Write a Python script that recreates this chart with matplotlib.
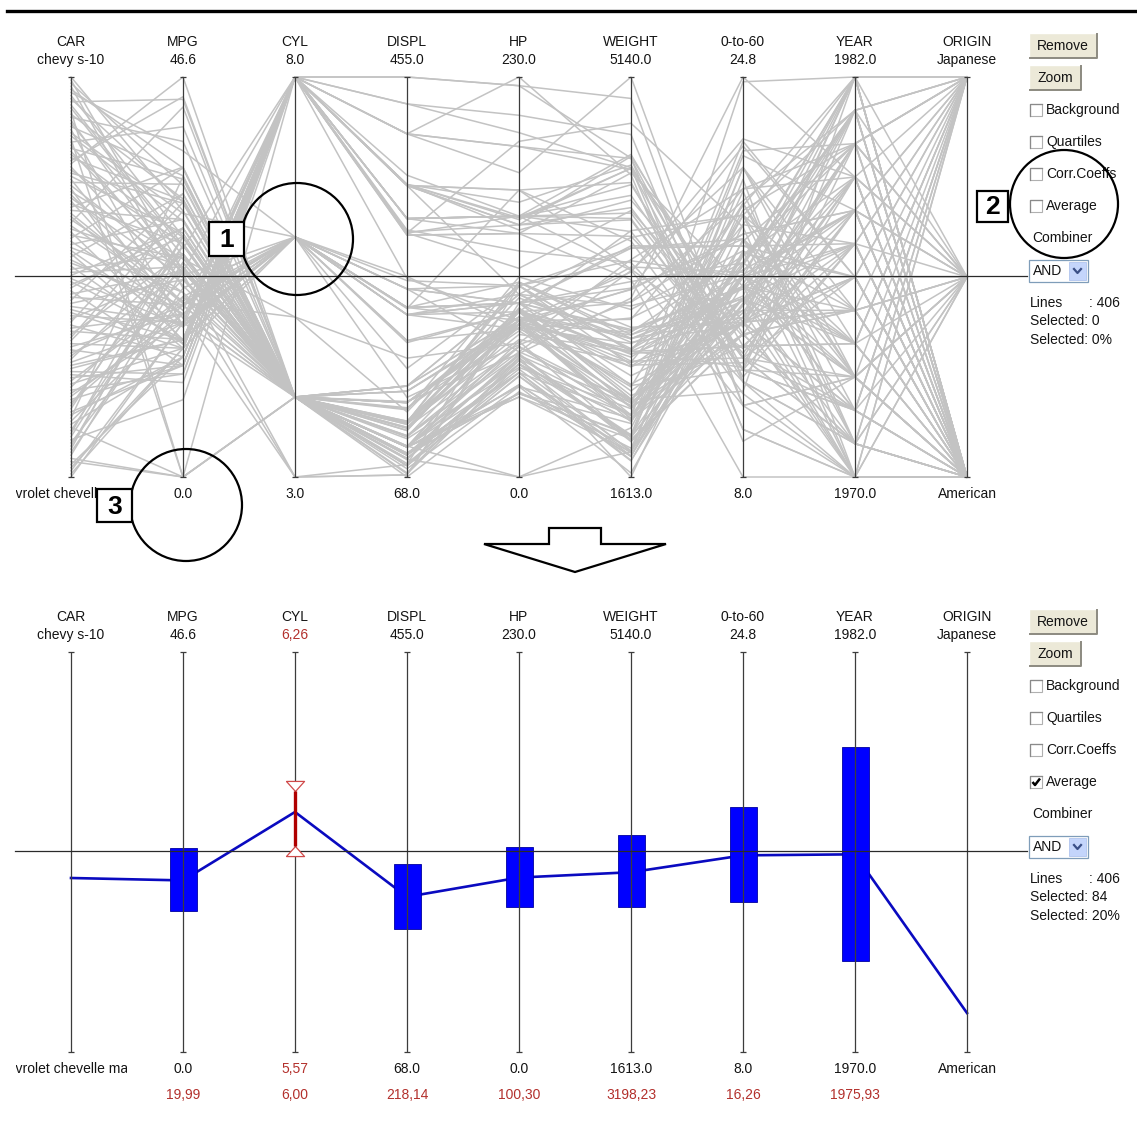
import matplotlib.pyplot as plt
from matplotlib.patches import Rectangle, Circle, Polygon
from matplotlib.transforms import Bbox, TransformedBbox
import numpy as np

plt.rcParams['font.family'] = ['Liberation Sans', 'DejaVu Sans']
plt.rcParams['font.size'] = 10

# ---- axes of the parallel-coordinates view ----
axis_names = ["CAR", "MPG", "CYL", "DISPL", "HP", "WEIGHT", "0-to-60", "YEAR", "ORIGIN"]
car_first = "chevrolet chevelle malibu"
car_last = "chevy s-10"
origin_names = ["American", "European", "Japanese"]
axis_min = [0, 0.0, 3.0, 68.0, 0.0, 1613.0, 8.0, 1970.0, 1]
axis_max = [None, 46.6, 8.0, 455.0, 230.0, 5140.0, 24.8, 1982.0, 3]

# ---- sample of the car table (grouped by model year) ----
mpg = [18, 15, 18, 15, 14, 0, 0, 24, 22, 27, 26, 21, 9,
       25, 28, 25, 0, 14, 19, 35, 14, 13, 28,
       27, 20, 13, 19, 18, 12, 23, 15, 21,
       13, 11, 12, 16, 16, 18, 26, 24, 20, 13, 19, 15, 29,
       31, 26, 16, 19, 14, 32, 24, 18,
       15, 16, 18, 23, 33, 20, 24, 13, 29,
       28, 16, 17.5, 29, 24.5, 26, 15.5, 20, 19, 33,
       15, 17.5, 21.5, 30, 19, 36, 25.5, 16, 24.5,
       20.5, 43.1, 21.5, 19.4, 20.2, 30, 36.1, 27.2, 17.7, 23.2, 20.3,
       25.4, 15.5, 23.9, 34.1, 18.5, 28.4, 31.9, 27.2, 22.3,
       46.6, 44.3, 32.2, 27.9, 24.3, 34.7, 23.7, 40.8, 0, 29.8,
       30.7, 17.6, 35.1, 25.8, 23.5, 39.1, 32.4, 0, 26.6,
       27, 44, 32, 28, 38, 36, 22, 34, 24, 31]
cyl = [8, 8, 8, 8, 8, 4, 8, 4, 6, 4, 4, 6, 8,
       4, 4, 4, 4, 8, 6, 4, 8, 8, 4,
       4, 4, 8, 3, 4, 8, 4, 8, 4,
       8, 8, 8, 8, 6, 6, 4, 4, 4, 8, 4, 8, 4,
       4, 4, 6, 6, 8, 4, 4, 6,
       6, 8, 6, 4, 4, 6, 4, 8, 4,
       4, 8, 6, 4, 4, 4, 8, 6, 4, 4,
       8, 8, 3, 4, 6, 4, 4, 8, 4,
       6, 4, 4, 8, 6, 4, 4, 4, 6, 4, 5,
       5, 8, 8, 4, 8, 4, 4, 4, 4,
       4, 4, 4, 4, 4, 4, 3, 4, 4, 4,
       6, 6, 4, 4, 6, 4, 4, 4, 8,
       4, 4, 4, 4, 6, 4, 6, 4, 4, 4]
displ = [307, 350, 318, 429, 455, 133, 302, 113, 198, 97, 97, 200, 304,
         98, 140, 113, 97, 318, 232, 72, 350, 400, 116,
         97, 140, 351, 70, 121, 400, 120, 304, 122,
         350, 429, 455, 400, 250, 225, 97, 116, 97, 302, 121, 318, 68,
         76, 79, 250, 232, 318, 71, 134, 258,
         250, 351, 225, 115, 91, 232, 107, 350, 90,
         97, 318, 250, 97, 98, 156, 304, 225, 120, 91,
         400, 305, 80, 97, 225, 79, 122, 351, 151,
         200, 90, 121, 318, 232, 98, 91, 119, 231, 156, 131,
         183, 351, 260, 86, 360, 151, 89, 141, 140,
         86, 90, 108, 156, 151, 105, 70, 85, 85, 89,
         145, 225, 81, 156, 173, 79, 107, 140, 350,
         140, 97, 135, 120, 262, 120, 232, 108, 140, 119]
hp = [130, 165, 150, 198, 225, 115, 140, 95, 95, 88, 46, 85, 193,
      0, 90, 95, 48, 150, 100, 69, 165, 175, 90,
      88, 90, 158, 97, 112, 190, 97, 150, 86,
      145, 208, 225, 230, 100, 105, 46, 75, 88, 140, 112, 150, 49,
      52, 67, 100, 100, 150, 65, 96, 110,
      72, 148, 95, 95, 53, 100, 90, 145, 70,
      75, 150, 110, 78, 60, 92, 120, 100, 88, 53,
      190, 145, 110, 67, 100, 58, 96, 149, 88,
      95, 48, 110, 140, 90, 68, 60, 97, 165, 105, 103,
      77, 142, 90, 65, 150, 90, 71, 71, 88,
      65, 48, 75, 105, 90, 63, 100, 65, 0, 62,
      76, 85, 60, 92, 110, 58, 72, 88, 105,
      86, 52, 84, 79, 85, 88, 112, 70, 92, 82]
weight = [3504, 3693, 3436, 4341, 4425, 3090, 3353, 2372, 2833, 2130, 1835, 2587, 4732,
          2046, 2264, 2228, 1978, 4096, 2634, 1613, 4209, 5140, 2123,
          2100, 2408, 4363, 2330, 2933, 4422, 2506, 3892, 2226,
          3988, 4633, 4951, 4278, 3278, 3121, 1950, 2158, 2279, 4294, 2868, 3777, 1867,
          1649, 1963, 3336, 2901, 4457, 1836, 2702, 3632,
          3432, 4335, 3785, 2694, 1795, 2914, 2430, 4440, 1937,
          2155, 4190, 3520, 1940, 2164, 2585, 3962, 3651, 3270, 1795,
          4325, 3880, 2720, 1985, 3630, 1825, 2300, 4335, 2740,
          3155, 1985, 2600, 3735, 3265, 2155, 1800, 2300, 3445, 2745, 2830,
          3530, 4054, 3420, 1975, 3940, 2670, 1925, 3190, 2890,
          2110, 2085, 2265, 2800, 3003, 2215, 2420, 2110, 1835, 1845,
          3160, 3465, 1760, 2620, 2725, 1755, 2290, 2720, 3725,
          2790, 2130, 2295, 2625, 3015, 2160, 2835, 2245, 2865, 2720]
accel = [12.0, 11.5, 11.0, 10.0, 10.0, 17.5, 8.0, 15.0, 15.5, 14.5, 20.5, 16.0, 18.5,
         19.0, 15.5, 14.0, 20.0, 13.0, 13.0, 18.0, 12.0, 12.0, 14.0,
         16.5, 19.5, 13.0, 13.5, 14.5, 12.5, 14.5, 12.5, 16.5,
         13.0, 11.0, 11.0, 9.5, 18.0, 16.5, 21.0, 15.5, 19.0, 16.0, 15.5, 12.5, 19.5,
         16.5, 15.5, 17.0, 16.0, 13.5, 21.0, 13.5, 18.0,
         21.0, 14.5, 19.0, 15.0, 17.5, 16.0, 14.5, 14.0, 14.0,
         16.4, 13.0, 16.4, 14.5, 22.1, 14.5, 13.9, 17.7, 21.9, 17.4,
         12.2, 12.5, 13.5, 16.4, 17.7, 18.6, 15.5, 14.5, 16.0,
         18.2, 21.5, 12.8, 13.2, 18.2, 16.5, 16.4, 14.7, 13.4, 16.7, 15.9,
         20.1, 14.3, 22.2, 15.2, 13.0, 16.0, 14.0, 24.8, 17.3,
         17.9, 21.7, 15.2, 14.4, 20.1, 14.9, 12.5, 19.2, 17.3, 15.3,
         19.6, 16.6, 16.1, 14.4, 12.6, 16.9, 17.0, 15.4, 19.0,
         15.6, 24.6, 11.6, 18.6, 17.0, 14.5, 14.7, 16.9, 16.4, 19.4]
year = ([1970] * 13 + [1971] * 10 + [1972] * 9 + [1973] * 13 + [1974] * 8 +
        [1975] * 9 + [1976] * 10 + [1977] * 9 + [1978] * 11 + [1979] * 9 +
        [1980] * 10 + [1981] * 9 + [1982] * 10)
origin = [1, 1, 1, 1, 1, 2, 1, 3, 1, 3, 2, 1, 1,
          1, 1, 3, 2, 1, 1, 3, 1, 1, 2,
          3, 1, 1, 3, 2, 1, 3, 1, 1,
          1, 1, 1, 1, 1, 1, 2, 2, 3, 1, 2, 1, 2,
          3, 2, 1, 1, 1, 3, 3, 1,
          1, 1, 1, 2, 3, 1, 2, 1, 2,
          3, 1, 1, 2, 1, 1, 1, 1, 2, 3,
          1, 1, 3, 3, 1, 2, 1, 1, 1,
          1, 2, 2, 1, 1, 1, 3, 3, 1, 1, 2,
          2, 1, 1, 3, 1, 1, 2, 2, 1,
          3, 2, 3, 1, 1, 1, 3, 3, 2, 2,
          2, 1, 3, 1, 1, 3, 3, 1, 1,
          1, 2, 1, 1, 1, 3, 1, 3, 1, 1]

# ---- averages of the selected lines ----
avg_car_frac = 0.435
avg_vals = [None, 19.99, 6.00, 218.14, 100.30, 3198.23, 16.26, 1975.93, 1.195]
box_lo = [None, 16.43, None, 187.0, 83.4, 2891.0, 14.30, 1972.73, None]
box_hi = [None, 23.77, None, 249.9, 117.9, 3526.0, 18.29, 1979.15, None]
cyl_band = (5.57, 6.26)
n_lines = 406
n_selected = 84

# ---- layout (pixels) ----
W, H = 1137, 1127
X0, DX = 71, 112
TOP_Y = (77, 477)     # axis top / bottom of the upper view
BOT_Y = (652, 1052)   # axis top / bottom of the lower view
SHIFT = 576           # vertical offset of the lower control column

n = len(mpg)
axis_max[0] = n - 1
table = np.array([np.arange(n), mpg, cyl, displ, hp, weight, accel, year, origin], dtype=float).T
lo = np.array(axis_min, dtype=float)
hi = np.array(axis_max, dtype=float)


def norm(v, i):
    return (v - lo[i]) / (hi[i] - lo[i])


fig = plt.figure(figsize=(W / 100, H / 100), dpi=100, facecolor='white')


def panel_axes(y_top, y_bot):
    ax = fig.add_axes([0, 0, 1, 1])
    ax.set_xlim(-X0 / DX, (W - X0) / DX)
    span = y_bot - y_top
    ax.set_ylim((y_bot - H) / span, y_bot / span)
    ax.axis('off')
    ax.patch.set_alpha(0)
    return ax


def draw_axes(ax, mid):
    idx = np.arange(9)
    ax.vlines(idx, 0, 1, color='#3c3c3c', lw=0.9, zorder=6)
    for yy in (0, 1):
        ax.plot(idx, np.full(9, yy), ls='none', marker='_', ms=5, mew=0.9,
                color='#3c3c3c', zorder=6)
    ax.plot([(15 - X0) / DX, (1027 - X0) / DX], [mid, mid], color='#2a2a2a',
            lw=0.9, zorder=6)


# upper view: every line of the table
ax1 = panel_axes(*TOP_Y)
normed = (table - lo) / (hi - lo)
for row in normed:
    ax1.plot(np.arange(9), row, color='#c3c3c3', lw=1.1, zorder=1)
draw_axes(ax1, (TOP_Y[1] - 276) / (TOP_Y[1] - TOP_Y[0]))

# lower view: averages with spread boxes
ax2 = panel_axes(*BOT_Y)
avg_norm = [avg_car_frac] + [norm(avg_vals[i], i) for i in range(1, 9)]
ax2.plot(np.arange(9), avg_norm, color='#0a0ac0', lw=1.9, zorder=3,
         solid_joinstyle='round')
for i in range(9):
    if box_lo[i] is None:
        continue
    b0, b1 = norm(box_lo[i], i), norm(box_hi[i], i)
    ax2.bar(i, b1 - b0, bottom=b0, width=27 / DX, color='#0000ff',
            edgecolor='#0000a0', lw=0.6, zorder=4)
c0, c1 = norm(cyl_band[0], 2), norm(cyl_band[1], 2)
tri_down = [(-0.9, 1), (0.9, 1), (0, 0), (-0.9, 1)]
tri_up = [(-0.9, -1), (0.9, -1), (0, 0), (-0.9, -1)]
ax2.plot([2], [c1], ls='none', marker=tri_down, ms=14.5, mfc='white', mec='#d04a4a',
         mew=0.9, zorder=8)
ax2.plot([2], [c0], ls='none', marker=tri_up, ms=14.5, mfc='white', mec='#d04a4a',
         mew=0.9, zorder=8)
ax2.plot([2, 2], [c0, c1], color='#b00000', lw=2.4, zorder=9, solid_capstyle='butt')
draw_axes(ax2, (BOT_Y[1] - 851) / (BOT_Y[1] - BOT_Y[0]))

# overlay in pixel units: labels, controls and callouts
ui = fig.add_axes([0, 0, 1, 1])
ui.set_xlim(0, W)
ui.set_ylim(H, 0)
ui.axis('off')
ui.patch.set_alpha(0)

INK = '#141414'
RED = '#b3302c'


def fmt(v):
    return f"{v:.1f}"


def axis_label(i, y, text, color=INK):
    x = X0 + i * DX
    t = ui.text(x, y, text, ha='center', va='baseline', color=color, fontsize=10)
    # labels are cut to their column width
    t.set_clip_box(TransformedBbox(Bbox.from_extents(x - DX / 2 + 0.5, 0, x + DX / 2 - 0.5, H),
                                   ui.transData))
    t.set_clip_on(True)
    return t


for i, name in enumerate(axis_names):
    if i == 0:
        top_txt, bot_txt = car_last, car_first
    elif i == 8:
        top_txt, bot_txt = origin_names[-1], origin_names[0]
    else:
        top_txt, bot_txt = fmt(axis_max[i]), fmt(axis_min[i])
    for base in (TOP_Y, BOT_Y):
        off = base[0] - TOP_Y[0]
        axis_label(i, 46 + off, name)
        if base is BOT_Y and i == 2:
            axis_label(i, 64 + off, f"{cyl_band[1]:.2f}".replace('.', ','), RED)
            axis_label(i, 498 + off, f"{cyl_band[0]:.2f}".replace('.', ','), RED)
        else:
            axis_label(i, 64 + off, top_txt)
            axis_label(i, 498 + off, bot_txt)
    if 1 <= i <= 7:
        axis_label(i, 1099, f"{avg_vals[i]:.2f}".replace('.', ','), RED)


def button(x, y, w, h, label):
    ui.add_patch(Rectangle((x, y), w, h, facecolor='#ece9d8', edgecolor='none', zorder=2))
    ui.plot([x, x, x + w], [y + h, y, y], color='white', lw=1, zorder=3)
    ui.plot([x + 0.5, x + w, x + w], [y + h, y + h, y + 0.5], color='#8c8a80', lw=1.4, zorder=3)
    ui.text(x + w / 2, y + h / 2 + 0.5, label, ha='center', va='center', color=INK, zorder=4)


def checkbox(y, label, checked=False):
    ui.add_patch(Rectangle((1030, y - 6), 12, 12, facecolor='white', edgecolor='#b0b0b0',
                           lw=0.8, zorder=2))
    ui.plot([1030, 1030, 1042], [y + 6, y - 6, y - 6], color='#8a8a8a', lw=0.9, zorder=3)
    if checked:
        ui.plot([1032.5, 1035, 1040], [y, y + 3, y - 3.5], color='black', lw=1.8, zorder=4,
                solid_capstyle='butt')
    ui.text(1046, y, label, ha='left', va='center', color=INK)


def controls(dy, selected, checked_avg):
    button(1029, 33 + dy, 68, 25, "Remove")
    button(1029, 65 + dy, 52, 25, "Zoom")
    checkbox(110 + dy, "Background")
    checkbox(142 + dy, "Quartiles")
    checkbox(174 + dy, "Corr.Coeffs")
    checkbox(206 + dy, "Average", checked_avg)
    ui.text(1032, 238 + dy, "Combiner", ha='left', va='center', color=INK)
    ui.add_patch(Rectangle((1029, 260 + dy), 59, 22, facecolor='white', edgecolor='#7f9db9',
                           lw=0.9, zorder=2))
    ui.add_patch(Rectangle((1069, 262 + dy), 17, 18, facecolor='#c4d5fb', edgecolor='#b0c4ee',
                           lw=0.6, zorder=3))
    ui.plot([1074, 1077.5, 1081], [269 + dy, 273 + dy, 269 + dy], color='#3a4f86', lw=1.6,
            zorder=4)
    ui.text(1033, 271 + dy, "AND", ha='left', va='center', color=INK)
    pct = 100 * selected // n_lines
    ui.text(1030, 303 + dy, "Lines", ha='left', va='center', color=INK)
    ui.text(1089, 303 + dy, f": {n_lines}", ha='left', va='center', color=INK)
    ui.text(1030, 321 + dy, f"Selected: {selected}", ha='left', va='center', color=INK)
    ui.text(1030, 340 + dy, f"Selected: {pct}%", ha='left', va='center', color=INK)


controls(0, 0, False)
controls(SHIFT, n_selected, True)


def callout(cx, cy, r, bx, by, bw, bh, number):
    ui.add_patch(Circle((cx, cy), r, fill=False, edgecolor='black', lw=1.6, zorder=9))
    ui.add_patch(Rectangle((bx, by), bw, bh, facecolor='white', edgecolor='black', lw=1.6,
                           zorder=10))
    ui.text(bx + bw / 2, by + bh / 2 + 1, number, ha='center', va='center', fontsize=19,
            fontweight='bold', color='black', zorder=11)


callout(297, 239, 56, 209, 222, 35, 34, "1")
callout(1064, 204, 54, 977, 191, 31, 31, "2")
callout(186, 505, 56, 97, 489, 35, 33, "3")

# separator rule and the block arrow between the two views
ui.plot([7, W], [11, 11], color='black', lw=2.4)
ui.add_patch(Polygon([(484, 544), (549, 544), (549, 528), (601, 528), (601, 544),
                      (666, 544), (575, 572)], closed=True, facecolor='white',
                     edgecolor='black', lw=1.6, joinstyle='miter'))

fig.savefig("out.png", dpi=100, facecolor='white')
